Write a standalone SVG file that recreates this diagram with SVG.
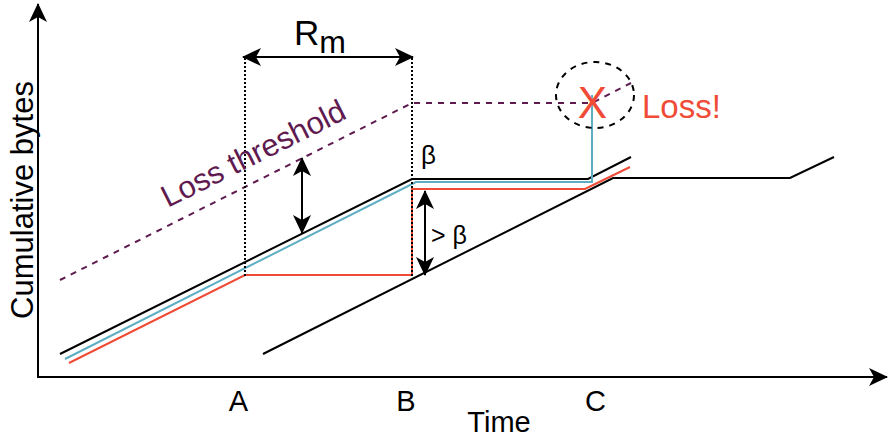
<svg xmlns="http://www.w3.org/2000/svg" width="889" height="438" viewBox="0 0 889 438">
<style>
.t{font-family:"Liberation Sans",Arial,sans-serif;fill:#000}
.ln{fill:none;stroke-width:2;stroke-linejoin:miter}
.k{stroke:#000}
.r{stroke:#EF4B36}
.c{stroke:#5EAEC3}
.p{stroke:#5F1B4F;stroke-dasharray:6 6}
.dot{stroke:#000;stroke-width:2;stroke-dasharray:2 2;fill:none}
.arr{stroke:#000;stroke-width:2;fill:none;marker-start:url(#ah);marker-end:url(#ah)}
</style>
<defs>
<marker id="ah" markerUnits="userSpaceOnUse" markerWidth="24" markerHeight="24" viewBox="-22 -12 24 24" refX="0" refY="0" orient="auto-start-reverse">
<path d="M1,0 L-18,-9 L-13,0 L-18,9 Z" fill="#000"/>
</marker>
</defs>
<rect width="889" height="438" fill="#fff"/>
<g id="axes">
<line x1="38" y1="378" x2="38" y2="4" class="ln k" marker-end="url(#ah)"/>
<line x1="37" y1="377" x2="887" y2="377" class="ln k" marker-end="url(#ah)"/>
</g>
<g id="connectors">
<path class="ln k" d="M60,354 L412,179 L588,179 L631,157"/>
<path class="ln c" d="M65,359 L416,182 L592,182 L592,95"/>
<path class="ln r" d="M69,363 L245,275 L412,275 L412,189 L585,189 L630,167"/>
<path class="ln k" d="M263,354 L613,178 L790,178 L834,157"/>
<path class="ln p" d="M60,280 L412,103 L592,103 L631,83"/>
<line class="dot" x1="245" y1="58" x2="245" y2="276"/>
<line class="dot" x1="412" y1="58" x2="412" y2="276"/>
<line class="arr" x1="243" y1="57" x2="413" y2="57"/>
<line class="arr" x1="302" y1="158" x2="302" y2="233"/>
<line class="arr" x1="425" y1="191" x2="425" y2="275"/>
</g>
<g id="loss-marker">
<ellipse cx="595" cy="95" rx="39" ry="33" fill="none" stroke="#000" stroke-width="2" stroke-dasharray="6 6"/>
<text class="t" x="592.5" y="118" font-size="44" text-anchor="middle" style="fill:#EF4B36">X</text>
<text class="t" x="642" y="118" font-size="33" style="fill:#EF4B36">Loss!</text>
</g>
<g id="labels">
<text class="t" transform="translate(33,200) rotate(-90)" font-size="31" text-anchor="middle">Cumulative bytes</text>
<text class="t" x="499" y="432" font-size="29" text-anchor="middle">Time</text>
<text class="t" x="238.5" y="411" font-size="29" text-anchor="middle">A</text>
<text class="t" x="406" y="411" font-size="29" text-anchor="middle">B</text>
<text class="t" x="595.5" y="411" font-size="29" text-anchor="middle">C</text>
<text class="t" x="294" y="45" font-size="35">R<tspan font-size="32" y="53">m</tspan></text>
<text class="t" x="421" y="164" font-size="26">β</text>
<text class="t" x="431" y="244" font-size="25">&gt; β</text>
<text class="t" transform="translate(258,163) rotate(-26.57)" font-size="31" text-anchor="middle" style="fill:#5F1B4F">Loss threshold</text>
</g>
</svg>
